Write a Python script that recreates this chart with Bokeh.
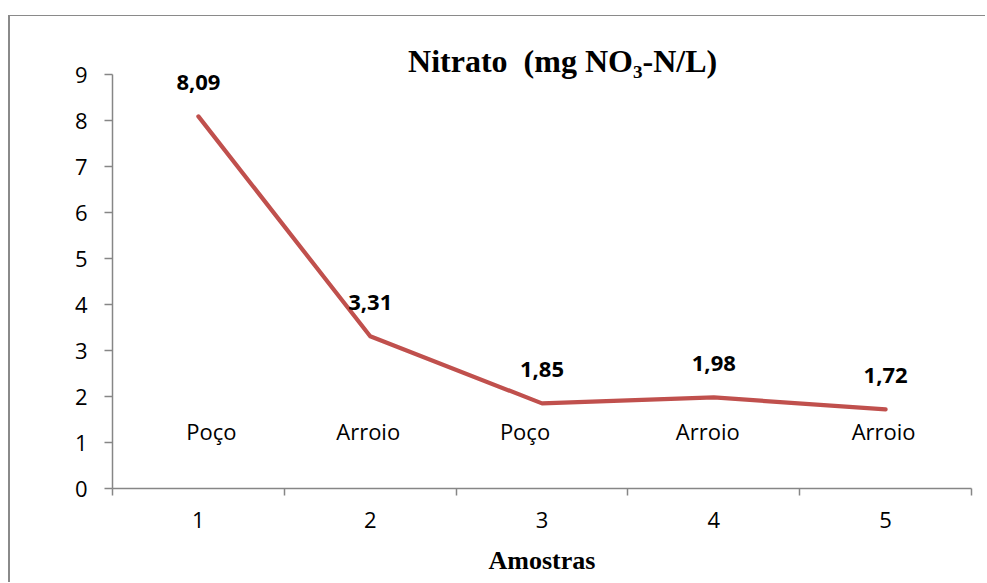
from bokeh.plotting import figure
from bokeh.models import Range1d, FixedTicker, ColumnDataSource, Label
from bokeh.core.properties import value
from bokeh.embed import file_html
from bokeh.resources import INLINE

# ---- data ----
samples = [1, 2, 3, 4, 5]
nitrate = [8.09, 3.31, 1.85, 1.98, 1.72]
sample_types = ["Poço", "Arroio", "Poço", "Arroio", "Arroio"]
y_ticks = [0, 1, 2, 3, 4, 5, 6, 7, 8, 9]
title_text = "Nitrato\u00a0 (mg NO\u2083-N/L)"
x_title = "Amostras"

# ---- styles ----
type_x_offsets = [13, -2, -17, -6, -2]
LINE_COLOR = "#C0504D"
AXIS_COLOR = "#868686"
SANS = "Open Sans"
SERIF = "Liberation Serif"
FS = "22px"

p = figure(width=977, height=567, output_backend="svg", toolbar_location=None,
           x_range=Range1d(0.5, 5.5), y_range=Range1d(0, 458 / 46),
           min_border_left=102, min_border_right=16, min_border_top=14,
           min_border_bottom=95)
p.styles = {"margin-left": "8px", "margin-top": "15px",
            "border-top": "1px solid #8a8a8a", "border-left": "2px solid #8a8a8a"}
p.outline_line_color = None
p.grid.grid_line_color = None
p.background_fill_color = "white"
p.border_fill_color = "white"

# x axis: labels at category centres, ticks on category boundaries
xa = p.xaxis[0]
xa.ticker = FixedTicker(ticks=samples, minor_ticks=[s - 0.5 for s in samples] + [samples[-1] + 0.5])
xa.bounds = (0.5, 5.5)
xa.major_tick_out = 0
xa.major_tick_in = 0
xa.minor_tick_out = 7
xa.minor_tick_in = 0
xa.minor_tick_line_color = AXIS_COLOR
xa.minor_tick_line_width = 1.5
xa.axis_line_color = AXIS_COLOR
xa.axis_line_width = 1.5
xa.major_label_text_font = SANS
xa.major_label_text_font_size = FS
xa.major_label_text_color = "black"
xa.major_label_standoff = 16
xa.axis_label = x_title
xa.axis_label_text_font = SERIF
xa.axis_label_text_font_style = "bold"
xa.axis_label_text_font_size = "26px"
xa.axis_label_text_color = "black"
xa.axis_label_standoff = 15

ya = p.yaxis[0]
ya.ticker = FixedTicker(ticks=y_ticks, minor_ticks=[])
ya.bounds = (0, 9)
ya.major_tick_out = 8
ya.major_tick_in = 0
ya.minor_tick_out = 0
ya.minor_tick_in = 0
ya.major_tick_line_color = AXIS_COLOR
ya.major_tick_line_width = 1.5
ya.axis_line_color = AXIS_COLOR
ya.axis_line_width = 1.5
ya.major_label_text_font = SANS
ya.major_label_text_font_size = FS
ya.major_label_text_color = "black"
ya.major_label_standoff = 17

src = ColumnDataSource(dict(
    x=samples, y=nitrate,
    lbl=[f"{v:.2f}".replace(".", ",") for v in nitrate],
    typ=sample_types, xoff=type_x_offsets,
    ty=[1.24] * len(samples),
))

p.line("x", "y", source=src, line_color=LINE_COLOR, line_width=4.2,
       line_cap="round", line_join="round")

p.text("x", "y", text="lbl", source=src, text_align="center",
       text_baseline="alphabetic", y_offset=-34,
       text_font=value(SANS), text_font_style="bold",
       text_font_size=FS, text_color="black")

p.text("x", "ty", text="typ", source=src, x_offset="xoff", text_align="center",
       text_baseline="alphabetic", text_font=value(SANS),
       text_font_size=FS, text_color="black")

p.add_layout(Label(x=3.12, y=9.30, text=title_text, text_align="center",
                   text_baseline="alphabetic", text_font=SERIF,
                   text_font_style="bold", text_font_size="32px",
                   text_color="black"))

open("out.html", "w").write(file_html(p, INLINE))
